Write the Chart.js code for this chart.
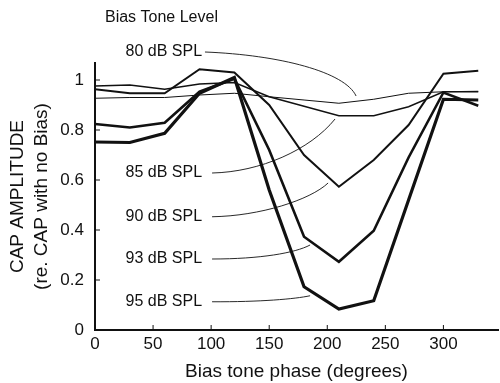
<!DOCTYPE html>
<html>
<head>
<meta charset="utf-8">
<script src="https://cdn.jsdelivr.net/npm/chart.js@4.4.1/dist/chart.umd.min.js"></script>
<style>
  html, body { margin: 0; padding: 0; background: #fff; }
  #wrap { width: 500px; height: 383px; }
</style>
</head>
<body>
<div id="wrap"><canvas id="grafica"></canvas></div>
<script>
// bias tone phase (deg)
const phase = [0, 30, 60, 90, 120, 150, 180, 210, 240, 270, 300, 330];

// CAP amplitude, one array per bias tone level
const spl80 = [0.927, 0.93, 0.93, 0.94, 0.947, 0.933, 0.92, 0.907, 0.923, 0.947, 0.953, 0.955];
const spl85 = [0.976, 0.98, 0.963, 0.984, 0.99, 0.933, 0.895, 0.857, 0.857, 0.893, 0.953, 0.953];
const spl90 = [0.963, 0.947, 0.947, 1.043, 1.03, 0.9, 0.70, 0.573, 0.68, 0.82, 1.025, 1.037];
const spl93 = [0.824, 0.81, 0.829, 0.953, 1.005, 0.72, 0.373, 0.273, 0.397, 0.69, 0.95, 0.897];
const spl95 = [0.752, 0.75, 0.787, 0.947, 1.01, 0.56, 0.173, 0.084, 0.117, 0.52, 0.923, 0.92];

const levelNames = ["80 dB SPL", "85 dB SPL", "90 dB SPL", "93 dB SPL", "95 dB SPL"];

const xTicks = [0, 50, 100, 150, 200, 250, 300];
const yTicks = [0, 0.2, 0.4, 0.6, 0.8, 1];

// label leaders, in data units: [start, ctrl1, ctrl2, end]
const leaders = [
  [[94.7, 1.112], [159.3, 1.10], [215.3, 1.032], [224.8, 0.936]],
  [[100.8, 0.628], [142.1, 0.632], [185.2, 0.72], [206.7, 0.844]],
  [[100.8, 0.453], [142.1, 0.456], [185.2, 0.52], [200.7, 0.588]],
  [[100.8, 0.284], [142.1, 0.284], [172.3, 0.308], [185.2, 0.34]],
  [[100.8, 0.113], [142.1, 0.112], [172.3, 0.124], [185.2, 0.137]]
];
const labelX = 92.2;

const FONT = "'Liberation Sans', Arial, Helvetica, sans-serif";
const INK = "#111";

function serie(values, width) {
  return {
    data: phase.map((p, i) => ({ x: p, y: values[i] })),
    borderColor: INK,
    borderWidth: width,
    pointRadius: 0,
    tension: 0,
    fill: false
  };
}

// inner tick marks, level labels and their leader curves
const extras = {
  id: "extras",
  afterDraw(chart) {
    const { ctx, scales: { x, y }, chartArea } = chart;
    ctx.save();
    ctx.strokeStyle = INK;
    ctx.lineWidth = 1;

    xTicks.forEach(v => {
      const px = x.getPixelForValue(v);
      ctx.beginPath();
      ctx.moveTo(px, chartArea.bottom);
      ctx.lineTo(px, chartArea.bottom - 5);
      ctx.stroke();
    });
    yTicks.forEach(v => {
      const py = y.getPixelForValue(v);
      ctx.beginPath();
      ctx.moveTo(chartArea.left, py);
      ctx.lineTo(chartArea.left + 5, py);
      ctx.stroke();
    });

    ctx.fillStyle = INK;
    ctx.font = "16px " + FONT;
    ctx.textBaseline = "middle";
    ctx.textAlign = "left";
    ctx.fillText("Bias Tone Level", x.getPixelForValue(8.6), y.getPixelForValue(1.248));

    ctx.textAlign = "right";
    ctx.lineWidth = 0.9;
    leaders.forEach((pts, i) => {
      const p = pts.map(([a, b]) => [x.getPixelForValue(a), y.getPixelForValue(b)]);
      ctx.fillText(levelNames[i], x.getPixelForValue(labelX), p[0][1]);
      ctx.beginPath();
      ctx.moveTo(p[0][0], p[0][1]);
      ctx.bezierCurveTo(p[1][0], p[1][1], p[2][0], p[2][1], p[3][0], p[3][1]);
      ctx.stroke();
    });
    ctx.restore();
  }
};

const ctx = document.getElementById("grafica").getContext("2d");

const chart = new Chart(ctx, {
  type: "line",
  data: {
    datasets: [
      serie(spl80, 1),
      serie(spl85, 1.4),
      serie(spl90, 2),
      serie(spl93, 2.6),
      serie(spl95, 3.2)
    ]
  },
  options: {
    responsive: true,
    maintainAspectRatio: false,
    animation: false,
    layout: { padding: { top: 63, right: 2, left: 0, bottom: 0 } },
    plugins: {
      legend: { display: false },
      tooltip: { enabled: false }
    },
    scales: {
      x: {
        type: "linear",
        min: 0,
        max: 347,
        afterFit: s => { s.height = 53; },
        afterBuildTicks: s => { s.ticks = xTicks.map(v => ({ value: v })); },
        grid: { display: false, drawTicks: false },
        border: { display: true, color: INK, width: 2 },
        ticks: { color: INK, font: { family: FONT, size: 17 }, padding: 4, maxRotation: 0 },
        title: {
          display: true,
          text: "Bias tone phase (degrees)",
          color: INK,
          font: { family: FONT, size: 19 },
          padding: { top: 0, bottom: 0 }
        }
      },
      y: {
        min: 0,
        max: 1.068,
        afterFit: s => { s.width = 95; },
        afterBuildTicks: s => { s.ticks = yTicks.map(v => ({ value: v })); },
        grid: { display: false, drawTicks: false },
        border: { display: true, color: INK, width: 2 },
        ticks: {
          color: INK,
          font: { family: FONT, size: 17 },
          padding: 11,
          callback: v => String(Math.round(v * 10) / 10)
        },
        title: {
          display: true,
          text: ["CAP AMPLITUDE", "(re. CAP with no Bias)"],
          color: INK,
          font: { family: FONT, size: 19, lineHeight: 1.3 },
          padding: { top: 5, bottom: 0 }
        }
      }
    }
  },
  plugins: [extras]
});
</script>
</body>
</html>
